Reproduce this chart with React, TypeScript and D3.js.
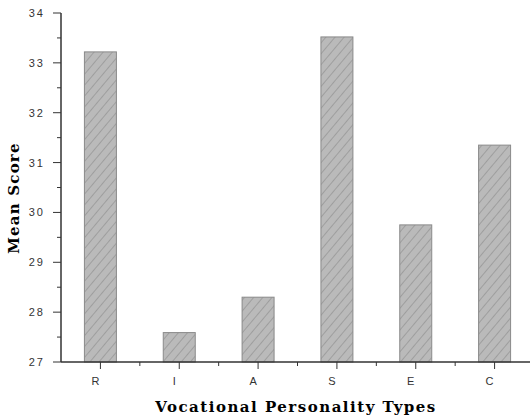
import React from 'react';
import * as d3 from 'd3';

// Mittelwerte je Persönlichkeitstyp
const types = ['R', 'I', 'A', 'S', 'E', 'C'];
const meanScores = [33.22, 27.59, 28.3, 33.52, 29.75, 31.35];
const yTicks = [27, 28, 29, 30, 31, 32, 33, 34];
const yMinorTicks = [27.5, 28.5, 29.5, 30.5, 31.5, 32.5, 33.5];

const W = 530;
const H = 418;
const left = 61;
const top = 13;
const bottom = 362;

const App = () => {
    const x = d3.scaleBand<string>().domain(types).range([left, 534]).padding(0);
    const y = d3.scaleLinear().domain([27, 34]).range([bottom, top]);
    const barW = 32;
    const axisColor = '#333';
    const tickFont = { fontFamily: 'Arial, "Liberation Sans", sans-serif', fontSize: 11, letterSpacing: 2 };
    const titleFont = '"DejaVu Serif", serif';

    return (
        <svg width={W} height={H} style={{ position: 'absolute', left: 0, top: 0 }}>
            <defs>
                <pattern id="hatch" patternUnits="userSpaceOnUse" width="7" height="7" patternTransform="rotate(40)">
                    <rect width="7" height="7" fill="#bababa" />
                    <line x1="0" y1="0" x2="0" y2="7" stroke="#8f8f8f" strokeWidth="1.3" />
                </pattern>
            </defs>
            <rect width={W} height={H} fill="#fff" />

            {/* Balken */}
            {types.map((t, i) => (
                <rect
                    key={t}
                    x={x(t)! + x.bandwidth() / 2 - barW / 2}
                    y={y(meanScores[i])}
                    width={barW}
                    height={bottom - y(meanScores[i])}
                    fill="url(#hatch)"
                    stroke="#8a8a8a"
                    strokeWidth={1}
                />
            ))}

            {/* Y-Achse */}
            <line x1={left} x2={left} y1={top} y2={bottom} stroke={axisColor} strokeWidth={1.5} />
            {yTicks.map(v => (
                <g key={v}>
                    <line x1={left - 8} x2={left} y1={y(v)} y2={y(v)} stroke={axisColor} />
                    <text x={left - 16} y={y(v) + 4} textAnchor="end" fill="#333" style={tickFont}>{v}</text>
                </g>
            ))}
            {yMinorTicks.map(v => (
                <line key={v} x1={left - 4} x2={left} y1={y(v)} y2={y(v)} stroke={axisColor} />
            ))}

            {/* X-Achse */}
            <line x1={left} x2={W} y1={bottom} y2={bottom} stroke={axisColor} strokeWidth={1.5} />
            {types.map(t => {
                const cx = x(t)! + x.bandwidth() / 2;
                return (
                    <g key={t}>
                        <line x1={cx} x2={cx} y1={bottom} y2={bottom + 7} stroke={axisColor} />
                        <line x1={x(t)! + x.bandwidth()} x2={x(t)! + x.bandwidth()} y1={bottom} y2={bottom + 4} stroke={axisColor} />
                        <text x={cx - 4} y={bottom + 23} textAnchor="middle" fill="#333" style={tickFont}>{t}</text>
                    </g>
                );
            })}

            {/* Achsentitel */}
            <text
                transform={`translate(19, 198) rotate(-90)`}
                textAnchor="middle"
                fontFamily={titleFont}
                fontWeight="900"
                fontSize={15}
                letterSpacing={1.2}
                fill="#000"
            >Mean Score</text>
            <text
                x={296}
                y={412}
                textAnchor="middle"
                fontFamily={titleFont}
                fontWeight="900"
                fontSize={15}
                letterSpacing={1.5}
                fill="#000"
            >Vocational Personality Types</text>
        </svg>
    );
};

export default App;
